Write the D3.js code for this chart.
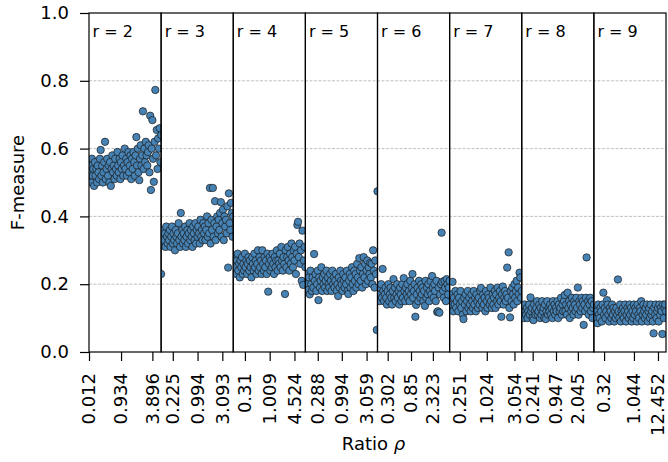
<!DOCTYPE html>
<html>
<head>
<meta charset="utf-8">
<script src="https://cdn.jsdelivr.net/npm/d3@7"></script>
<style>
  body { margin: 0; background: #fff; }
  svg text { font-family: "DejaVu Sans", sans-serif; fill: #000; }
</style>
</head>
<body>
<svg id="chart" width="668" height="462"></svg>
<script>
// rank of each panel
const ranks = [2, 3, 4, 5, 6, 7, 8, 9];

// tick positions (point index inside a panel) and their ratio labels
const tickIndex = [
    [0, 44, 87], [16, 50, 84], [16, 50, 84], [17, 50, 84],
    [14, 46, 76], [14, 51, 89], [15, 47, 77], [14, 55, 88]
];
const tickLabels = [
    ['0.012', '0.934', '3.896'], ['0.225', '0.994', '3.093'], ['0.31', '1.009', '4.524'],
    ['0.288', '0.994', '3.059'], ['0.302', '0.85', '2.323'], ['0.251', '1.024', '3.054'],
    ['0.241', '0.947', '2.045'], ['0.32', '1.044', '12.452']
];

// F-measure per point, one array per rank
const fR2 = [.53, .51, .55, .50, .57, .52, .54, .49, .56, .52,
    .54, .50, .55, .53, .51, .57, .596, .52, .55, .50,
    .53, .56, .62, .51, .54, .57, .52, .55, .50, .56,
    .49, .54, .58, .53, .55, .51, .57, .54, .52, .59,
    .55, .53, .57, .51, .56, .54, .58, .52, .55, .60,
    .54, .57, .52, .56, .59, .53, .55, .58, .51, .57,
    .54, .59, .56, .52, .58, .634, .55, .60, .53, .507,
    .57, .61, .55, .58, .71, .54, .60, .56, .62, .58,
    .55, .59, .61, .53, .697, .478, .60, .684, .57, .502,
    .62, .773, .58, .655, .54, .63, .60, .66, .56, .64];
const fR3 = [.23, .34, .32, .36, .33, .35, .31, .37, .34, .32,
    .35, .33, .36, .31, .34, .37, .32, .35, .33, .30,
    .36, .34, .32, .35, .38, .33, .31, .41, .34, .36,
    .32, .35, .33, .37, .31, .34, .36, .32, .35, .38,
    .33, .36, .34, .31, .37, .35, .33, .38, .32, .36,
    .34, .37, .35, .32, .39, .34, .36, .33, .38, .35,
    .37, .33, .36, .40, .34, .38, .35, .484, .32, .39,
    .36, .484, .34, .38, .445, .33, .37, .40, .35, .39,
    .36, .41, .442, .34, .38, .42, .33, .40, .37, .39,
    .35, .43, .249, .468, .38, .36, .44, .41, .34, .40];
const fR4 = [.26, .24, .28, .25, .23, .27, .29, .24, .26, .22,
    .27, .25, .28, .23, .26, .24, .29, .25, .27, .23,
    .26, .28, .24, .27, .25, .22, .28, .26, .24, .29,
    .25, .27, .23, .26, .30, .24, .28, .25, .27, .23,
    .30, .26, .24, .28, .25, .27, .23, .29, .178, .26,
    .28, .24, .27, .25, .29, .26, .23, .28, .25, .27,
    .30, .24, .27, .26, .29, .25, .31, .27, .24, .28,
    .26, .171, .30, .25, .28, .31, .27, .24, .29, .26,
    .32, .28, .25, .30, .27, .31, .23, .29, .375, .384,
    .28, .32, .26, .30, .21, .358, .198, .27, .31, .25];
const fR5 = [.21, .19, .23, .20, .183, .22, .17, .24, .20, .18,
    .22, .19, .289, .21, .23, .18, .20, .24, .153, .22,
    .19, .21, .25, .18, .22, .20, .23, .19, .21, .24,
    .18, .22, .20, .19, .23, .21, .18, .24, .20, .22,
    .19, .21, .23, .18, .20, .165, .22, .19, .24, .21,
    .20, .18, .23, .21, .19, .22, .20, .24, .18, .171,
    .21, .23, .19, .22, .25, .20, .18, .24, .21, .23,
    .19, .26, .22, .20, .277, .24, .21, .25, .19, .23,
    .28, .22, .26, .20, .24, .27, .21, .25, .23, .263,
    .22, .26, .20, .30, .24, .19, .27, .23, .065, .474];
const fR6 = [.18, .16, .19, .15, .17, .20, .16, .245, .18, .15,
    .17, .19, .16, .14, .18, .20, .15, .17, .19, .16,
    .14, .18, .215, .16, .19, .15, .17, .20, .16, .18,
    .14, .19, .17, .15, .20, .16, .218, .18, .15, .19,
    .17, .20, .16, .18, .15, .21, .17, .19, .23, .16,
    .18, .20, .104, .139, .17, .19, .15, .21, .18, .16,
    .20, .17, .19, .15, .18, .136, .21, .16, .19, .17,
    .20, .15, .18, .21, .17, .224, .19, .16, .20, .18,
    .15, .21, .118, .12, .19, .116, .17, .20, .352, .207,
    .18, .16, .21, .19, .15, .215, .20, .17, .19, .21];
const fR7 = [.15, .13, .17, .14, .207, .12, .16, .14, .18, .13,
    .15, .17, .12, .16, .14, .18, .13, .15, .11, .097,
    .16, .14, .17, .12, .15, .18, .13, .16, .14, .12,
    .17, .15, .13, .18, .14, .16, .12, .17, .15, .13,
    .16, .14, .18, .189, .15, .13, .17, .14, .16, .12,
    .18, .15, .13, .17, .16, .14, .19, .15, .13, .17,
    .14, .16, .18, .13, .17, .15, .19, .14, .16, .18,
    .15, .104, .17, .193, .14, .16, .18, .15, .17, .249,
    .16, .294, .13, .102, .18, .15, .19, .17, .14, .20,
    .16, .18, .21, .15, .19, .17, .234, .22, .16, .18];
const fR8 = [.12, .11, .13, .10, .14, .12, .11, .13, .10, .12,
    .14, .11, .161, .12, .13, .10, .094, .14, .12, .11,
    .13, .15, .11, .12, .14, .10, .13, .11, .15, .12,
    .13, .10, .14, .097, .12, .15, .11, .13, .12, .14,
    .11, .13, .10, .15, .12, .14, .11, .13, .12, .15,
    .10, .14, .12, .13, .16, .11, .14, .12, .15, .168,
    .12, .14, .11, .175, .13, .15, .10, .14, .12, .16,
    .13, .11, .15, .14, .12, .16, .13, .19, .11, .15,
    .14, .12, .16, .13, .15, .08, .14, .12, .16, .279,
    .13, .15, .11, .14, .16, .12, .15, .10, .13, .14];
const fR9 = [.11, .09, .13, .10, .12, .085, .14, .11, .10, .13,
    .12, .09, .14, .175, .11, .13, .10, .12, .153, .14,
    .11, .09, .13, .12, .10, .14, .11, .13, .09, .12,
    .10, .13, .11, .214, .12, .10, .14, .09, .12, .11,
    .13, .10, .12, .14, .09, .11, .13, .12, .10, .14,
    .11, .13, .09, .12, .10, .14, .11, .13, .12, .09,
    .14, .11, .10, .13, .12, .15, .09, .11, .14, .12,
    .10, .13, .11, .14, .09, .12, .13, .10, .14, .11,
    .12, .09, .055, .13, .11, .14, .10, .12, .13, .09,
    .14, .11, .13, .12, .053, .14, .10, .13, .14, .12];

const fValues = [fR2, fR3, fR4, fR5, fR6, fR7, fR8, fR9];
const yTicks = [0, 0.2, 0.4, 0.6, 0.8, 1.0];
const gridTicks = [0.2, 0.4, 0.6, 0.8];

const width = 668;
const height = 462;
const margin = { top: 13, right: 2, bottom: 110, left: 89 };
const innerWidth = width - margin.left - margin.right;
const innerHeight = height - margin.top - margin.bottom;

const svg = d3.select('#chart');
const g = svg.append('g')
    .attr('transform', `translate(${margin.left}, ${margin.top})`);

const panelScale = d3.scaleBand()
    .domain(ranks)
    .range([0, innerWidth])
    .padding(0);

const yScale = d3.scaleLinear()
    .domain([0, 1])
    .range([innerHeight, 0]);

//grid lines
g.append('g')
    .selectAll('line')
    .data(gridTicks)
    .enter()
    .append('line')
    .attr('x1', 0)
    .attr('x2', innerWidth)
    .attr('y1', d => yScale(d))
    .attr('y2', d => yScale(d))
    .attr('stroke', '#b0b0b0')
    .attr('stroke-width', 0.8)
    .attr('stroke-dasharray', '3,1.5');

//y axis
const yAxisG = g.append('g')
    .call(d3.axisLeft(yScale)
        .tickValues(yTicks)
        .tickFormat(d3.format('.1f'))
        .tickSize(9)
        .tickPadding(11));
yAxisG.select('.domain').remove();
yAxisG.selectAll('line').attr('stroke-width', 1.2);
yAxisG.selectAll('text').attr('font-size', 18).style('font-family', 'DejaVu Sans');

ranks.forEach((r, k) => {
    const x0 = panelScale(r);
    const bw = panelScale.bandwidth();
    const data = fValues[k];
    const xScale = d3.scaleLinear()
        .domain([0, data.length - 1])
        .range([0, bw]);

    const panel = g.append('g')
        .attr('transform', `translate(${x0}, 0)`);

    panel.append('clipPath')
        .attr('id', 'clip-' + r)
        .append('rect')
        .attr('width', bw)
        .attr('height', innerHeight);

    panel.append('g')
        .attr('clip-path', `url(#clip-${r})`)
        .selectAll('circle')
        .data(data)
        .enter()
        .append('circle')
        .attr('cx', (d, i) => xScale(i))
        .attr('cy', d => yScale(d))
        .attr('r', 3.7)
        .attr('fill', '#4682b4')
        .attr('stroke', '#1a1a1a')
        .attr('stroke-width', 0.7);

    //x axis for this panel
    const xAxisG = panel.append('g')
        .attr('transform', `translate(0, ${innerHeight})`)
        .call(d3.axisBottom(xScale)
            .tickValues(tickIndex[k])
            .tickFormat('')
            .tickSize(9));
    xAxisG.select('.domain').remove();
    xAxisG.selectAll('line').attr('stroke-width', 1.2);
    xAxisG.selectAll('text').remove();

    //rotated ratio labels
    panel.append('g')
        .selectAll('text')
        .data(tickIndex[k])
        .enter()
        .append('text')
        .attr('transform', d => `translate(${xScale(d)}, ${innerHeight + 21}) rotate(-90)`)
        .attr('text-anchor', 'end')
        .attr('dy', '0.35em')
        .attr('font-size', 18)
        .text((d, i) => tickLabels[k][i]);

    panel.append('rect')
        .attr('width', bw)
        .attr('height', innerHeight)
        .attr('fill', 'none')
        .attr('stroke', '#000')
        .attr('stroke-width', 1.2);

    panel.append('text')
        .attr('x', 3.5)
        .attr('y', 24)
        .attr('font-size', 16)
        .text('r = ' + r);
});

//axis titles
svg.append('text')
    .attr('transform', `translate(24, ${margin.top + innerHeight / 2}) rotate(-90)`)
    .attr('text-anchor', 'middle')
    .attr('font-size', 18)
    .text('F-measure');

const xTitle = svg.append('text')
    .attr('x', margin.left + innerWidth / 2 - 4)
    .attr('y', 450)
    .attr('text-anchor', 'middle')
    .attr('font-size', 18);
xTitle.append('tspan').text('Ratio ');
xTitle.append('tspan').attr('font-style', 'italic').text('ρ');
</script>
</body>
</html>
